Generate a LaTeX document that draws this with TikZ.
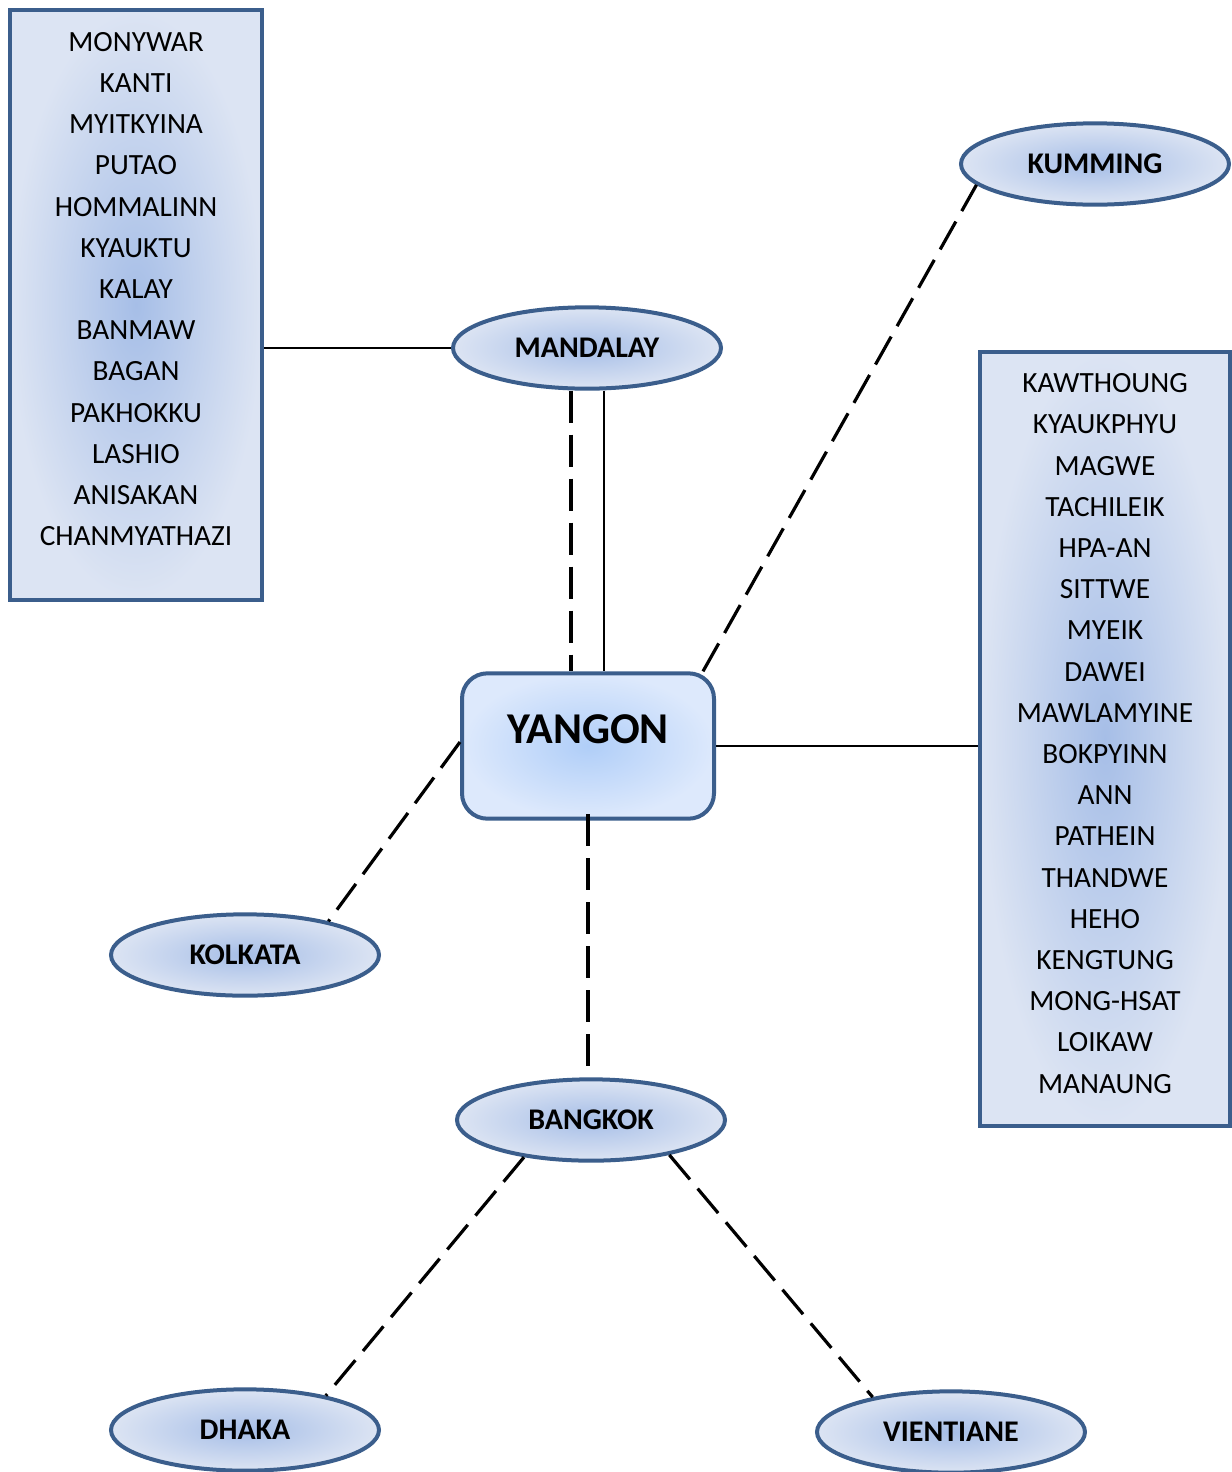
\documentclass[tikz,border=0pt]{standalone}
\usepackage{fontspec}
\setmainfont{Carlito}
\usetikzlibrary{shapes.geometric}
\definecolor{cityedge}{RGB}{59,94,140}
\definecolor{cityin}{RGB}{166,190,231}
\definecolor{cityout}{RGB}{220,228,243}
\definecolor{hubin}{RGB}{176,206,248}
\definecolor{hubout}{RGB}{221,233,252}
\tikzset{
  city/.style={ellipse, draw=cityedge, line width=3pt, inner sep=0pt,
    minimum width=201pt, minimum height=61pt, shading=radial,
    inner color=cityin, outer color=cityout,
    font=\bfseries\fontsize{22.5}{27}\selectfont},
  listbox/.style={rectangle, draw=cityedge, line width=3pt, inner sep=0pt,
    shading=radial, inner color=cityin, outer color=cityout},
  listtext/.style={align=center, inner sep=0pt,
    font=\fontsize{22}{30.9}\selectfont},
  hub/.style={rectangle, rounded corners=19pt, draw=cityedge, line width=3pt,
    minimum width=189pt, minimum height=109pt, shading=radial,
    inner color=hubin, outer color=hubout, text depth=25pt,
    font=\bfseries\fontsize{33}{38}\selectfont},
  route/.style={line width=1.5pt},
  flight/.style={line width=2.4pt, dash pattern=on 24pt off 9pt}
}
\begin{document}
\begin{tikzpicture}[x=0.75pt,y=0.75pt,yscale=-1,xscale=1]
  \useasboundingbox (0,0) rectangle (1232,1472);

  % domestic lists
  \node[listbox, minimum width=189pt, minimum height=442pt] (northbox) at (136,305) {};
  \node[listtext] (northnames) at (136,289) {MONYWAR\\KANTI\\MYITKYINA\\PUTAO\\HOMMALINN\\KYAUKTU\\KALAY\\BANMAW\\BAGAN\\PAKHOKKU\\LASHIO\\ANISAKAN\\CHANMYATHAZI};
  \node[listbox, minimum width=187pt, minimum height=580pt] (southbox) at (1105,739) {};
  \node[listtext] (southnames) at (1105,733.5) {KAWTHOUNG\\KYAUKPHYU\\MAGWE\\TACHILEIK\\HPA-AN\\SITTWE\\MYEIK\\DAWEI\\MAWLAMYINE\\BOKPYINN\\ANN\\PATHEIN\\THANDWE\\HEHO\\KENGTUNG\\MONG-HSAT\\LOIKAW\\MANAUNG};

  % hub and cities
  \node[hub] (yangon) at (588,746) {YANGON};
  \node[city] (mandalay) at (587,348) {MANDALAY};
  \node[city] (kumming) at (1095,164) {KUMMING};
  \node[city] (kolkata) at (245,955) {KOLKATA};
  \node[city] (bangkok) at (591,1120) {BANGKOK};
  \node[city] (dhaka) at (245,1430) {DHAKA};
  \node[city] (vientiane) at (951,1432) {VIENTIANE};

  % solid links
  \draw[route] (northbox.east |- mandalay.west) -- (mandalay.west);
  \draw[route] ([xshift=12.5pt]mandalay.south) -- ([xshift=12.5pt]mandalay.south |- yangon.north);
  \draw[route] (yangon.east) -- (yangon.east -| southbox.west);

  % dashed links
  \draw[flight] ([xshift=-12pt]mandalay.south) -- ([xshift=-12pt]mandalay.south |- yangon.north);
  \draw[flight] (yangon.33) -- (kumming.190);
  \draw[flight] ([yshift=-3pt]yangon.west) -- (kolkata.22);
  \draw[flight] ([yshift=-5pt]yangon.south) -- (yangon.south |- bangkok.north);
  \draw[flight] (bangkok.209) -- (dhaka.23);
  \draw[flight] (bangkok.336) -- (vientiane.156);
\end{tikzpicture}
\end{document}
